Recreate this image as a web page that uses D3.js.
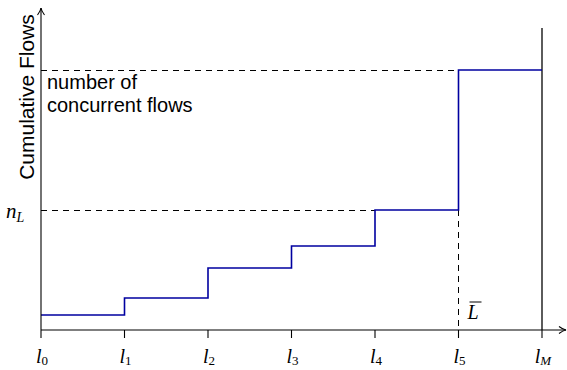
<!DOCTYPE html>
<html>
<head>
<meta charset="utf-8">
<script src="https://cdn.jsdelivr.net/npm/d3@7"></script>
<style>
  html, body { margin: 0; padding: 0; background: #fff; }
  svg { display: block; }
  .math { font-family: "Liberation Serif", "DejaVu Serif", serif; font-style: italic; }
  .sans { font-family: "Liberation Sans", Arial, Helvetica, sans-serif; }
</style>
</head>
<body>
<svg id="chart" width="567" height="370"></svg>
<script>
// Link-length breakpoints along the x axis
const tickNames = ["0", "1", "2", "3", "4", "5", "M"];
const tickPos = [0, 1, 2, 3, 4, 5, 6];
// Cumulative flow count on each interval [l_i, l_{i+1})
const stepLevels = [15, 32, 62, 84, 120, 260];
const nLevel = 120;      // n_L
const lBarPos = 5;       // position of L-bar
const yMax = 322;        // top of the y axis
const lMTop = 302;       // top of the l_M marker

const svg = d3.select("#chart");
const x = d3.scaleLinear().domain([0, 6]).range([41, 542]);
const y = d3.scaleLinear().domain([0, yMax]).range([330, 8]);

// Arrowhead
const defs = svg.append("defs");
defs.append("marker")
  .attr("id", "arrow").attr("viewBox", "0 0 10 10")
  .attr("refX", 9).attr("refY", 5)
  .attr("markerWidth", 10).attr("markerHeight", 10)
  .attr("markerUnits", "userSpaceOnUse")
  .attr("orient", "auto")
  .append("path").attr("d", "M2,1.5 Q6,4.5 9,5 Q6,5.5 2,8.5")
  .attr("fill", "none").attr("stroke", "#000").attr("stroke-width", 1.1);

// Dashed guides
const guides = svg.append("g").attr("stroke", "#000").attr("stroke-width", 1)
  .attr("stroke-dasharray", "6,5").attr("shape-rendering", "crispEdges");
guides.append("line")
  .attr("x1", x(0)).attr("x2", x(5)).attr("y1", y(stepLevels[5])).attr("y2", y(stepLevels[5]));
guides.append("line")
  .attr("x1", x(0)).attr("x2", x(4)).attr("y1", y(nLevel)).attr("y2", y(nLevel));
guides.append("line")
  .attr("x1", x(lBarPos)).attr("x2", x(lBarPos)).attr("y1", y(nLevel)).attr("y2", y(0));

// l_M marker
svg.append("line")
  .attr("x1", x(6)).attr("x2", x(6)).attr("y1", y(lMTop)).attr("y2", y(0))
  .attr("stroke", "#333").attr("stroke-width", 1.6);

// Step curve
const pts = [];
stepLevels.forEach((v, i) => { pts.push([i, v]); pts.push([i + 1, v]); });
const line = d3.line().x(d => x(d[0])).y(d => y(d[1])).curve(d3.curveLinear);
svg.append("path").datum(pts).attr("d", line)
  .attr("fill", "none").attr("stroke", "#0000a0").attr("stroke-width", 1.6);

// X axis with arrow
svg.append("line")
  .attr("x1", x(0)).attr("x2", 566).attr("y1", y(0)).attr("y2", y(0))
  .attr("stroke", "#000").attr("stroke-width", 1.1).attr("marker-end", "url(#arrow)");
// Y axis with arrow
svg.append("line")
  .attr("x1", x(0)).attr("x2", x(0)).attr("y1", y(0)).attr("y2", y(yMax))
  .attr("stroke", "#000").attr("stroke-width", 1.1).attr("marker-end", "url(#arrow)");

// Tick marks
svg.selectAll(".tick").data(tickPos).enter().append("line")
  .attr("x1", d => x(d)).attr("x2", d => x(d))
  .attr("y1", y(0)).attr("y2", y(0) + 8)
  .attr("stroke", "#000").attr("stroke-width", 1.1);

// Tick labels l_i
const tl = svg.selectAll(".tlab").data(tickPos).enter().append("text")
  .attr("class", "math")
  .attr("x", d => x(d) + 1).attr("y", 363)
  .attr("text-anchor", "middle")
  .attr("font-size", 20);
tl.append("tspan").text("l");
tl.append("tspan").attr("dy", 2).attr("font-size", 13)
  .attr("font-style", (d, i) => tickNames[i] === "M" ? "italic" : "normal")
  .text((d, i) => tickNames[i]);

// n_L label
const nl = svg.append("text").attr("class", "math")
  .attr("x", 6).attr("y", 218).attr("font-size", 21);
nl.append("tspan").text("n");
nl.append("tspan").attr("dy", 4).attr("font-size", 14).text("L");

// L-bar label
svg.append("text").attr("class", "math")
  .attr("x", x(lBarPos) + 9).attr("y", 319).attr("font-size", 20).text("L");
svg.append("line")
  .attr("x1", x(lBarPos) + 11).attr("x2", x(lBarPos) + 23)
  .attr("y1", 302).attr("y2", 302)
  .attr("stroke", "#000").attr("stroke-width", 1);

// Y axis title
svg.append("text").attr("class", "sans")
  .attr("transform", "translate(34, 97) rotate(-90)")
  .attr("text-anchor", "middle").attr("font-size", 21)
  .text("Cumulative Flows");

// Annotation
svg.append("text").attr("class", "sans")
  .attr("x", 47).attr("y", 89).attr("font-size", 20).text("number of");
svg.append("text").attr("class", "sans")
  .attr("x", 47).attr("y", 112).attr("font-size", 20).text("concurrent flows");
</script>
</body>
</html>
